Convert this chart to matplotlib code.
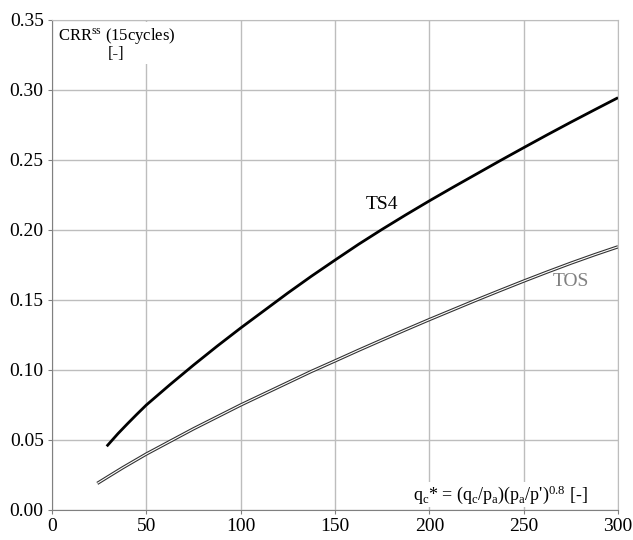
import numpy as np
import matplotlib
matplotlib.use("Agg")
import matplotlib.pyplot as plt

plt.rcParams['font.family'] = ['Liberation Serif', 'DejaVu Serif']
plt.rcParams['mathtext.fontset'] = 'custom'
plt.rcParams['mathtext.rm'] = 'Liberation Serif'
plt.rcParams['mathtext.it'] = 'Liberation Serif'

# values
qc_ts4 = [29, 35, 40, 45, 50, 62.5, 75, 87.5, 100, 112.5, 125, 137.5, 150, 162.5, 175,
          187.5, 200, 212.5, 225, 237.5, 250, 262.5, 275, 287.5, 300]
crr_ts4 = [0.0455, 0.0546, 0.0616, 0.0684, 0.075, 0.0895, 0.1035, 0.117, 0.130, 0.1425, 0.155,
           0.167, 0.1785, 0.1898, 0.2005, 0.2108, 0.2208, 0.2305, 0.240, 0.2495, 0.2588, 0.268,
           0.277, 0.2858, 0.2945]

qc_tos = [24, 30, 37.5, 50, 62.5, 75, 87.5, 100, 112.5, 125, 137.5, 150, 162.5, 175,
          187.5, 200, 212.5, 225, 237.5, 250, 262.5, 275, 287.5, 300]
crr_tos = [0.019, 0.024, 0.0302, 0.040, 0.049, 0.058, 0.0665, 0.075, 0.083, 0.091, 0.099,
           0.1065, 0.1141, 0.1215, 0.1288, 0.136, 0.143, 0.150, 0.1568, 0.1635, 0.170, 0.1763,
           0.1823, 0.188]

x_ticks = [0, 50, 100, 150, 200, 250, 300]
y_ticks = [0.00, 0.05, 0.10, 0.15, 0.20, 0.25, 0.30, 0.35]

fig = plt.figure(figsize=(6.33, 5.4), dpi=100)
ax = fig.add_axes([52/633, 30/540, 566/633, 490/540])

ax.plot(qc_ts4, crr_ts4, color='black', lw=2.0, solid_capstyle='butt',
        solid_joinstyle='round', zorder=3)
# TOS drawn as a hollow double line
ax.plot(qc_tos, crr_tos, color='#333333', lw=2.4, solid_capstyle='butt',
        solid_joinstyle='round', zorder=3)
ax.plot(qc_tos, crr_tos, color='white', lw=0.8, solid_capstyle='butt',
        solid_joinstyle='round', zorder=4)

ax.set_xlim(0, 300)
ax.set_ylim(0, 0.35)
ax.set_xticks(x_ticks)
ax.set_yticks(y_ticks)
ax.set_yticklabels([f"{v:.2f}" for v in y_ticks])
ax.tick_params(labelsize=14, length=3, color='#808080', pad=3)
ax.grid(True, color='#bdbdbd', lw=1.0)
ax.set_axisbelow(True)
for s in ['top', 'right']:
    ax.spines[s].set_color('#bdbdbd')
for s in ['left', 'bottom']:
    ax.spines[s].set_color('#808080')

ax.text(175, 0.218, 'TS4', fontsize=14, color='black', ha='center', va='center')
ax.text(275, 0.163, 'TOS', fontsize=14, color='#808080', ha='center', va='center')

ax.text(3, 0.346, 'CRR$^{\\mathrm{ss}}$ (15cycles)\n[-]', fontsize=12, ha='left', va='top',
        multialignment='center', linespacing=1.05,
        bbox=dict(facecolor='white', edgecolor='none', pad=1), zorder=5)
ax.text(284, 0.003, "q$_\\mathrm{c}$* = (q$_\\mathrm{c}$/p$_\\mathrm{a}$)(p$_\\mathrm{a}$/p')$^{0.8}$ [-]",
        fontsize=13, ha='right', va='bottom',
        bbox=dict(facecolor='white', edgecolor='none', pad=1), zorder=5)

fig.savefig('out.png', dpi=100)
